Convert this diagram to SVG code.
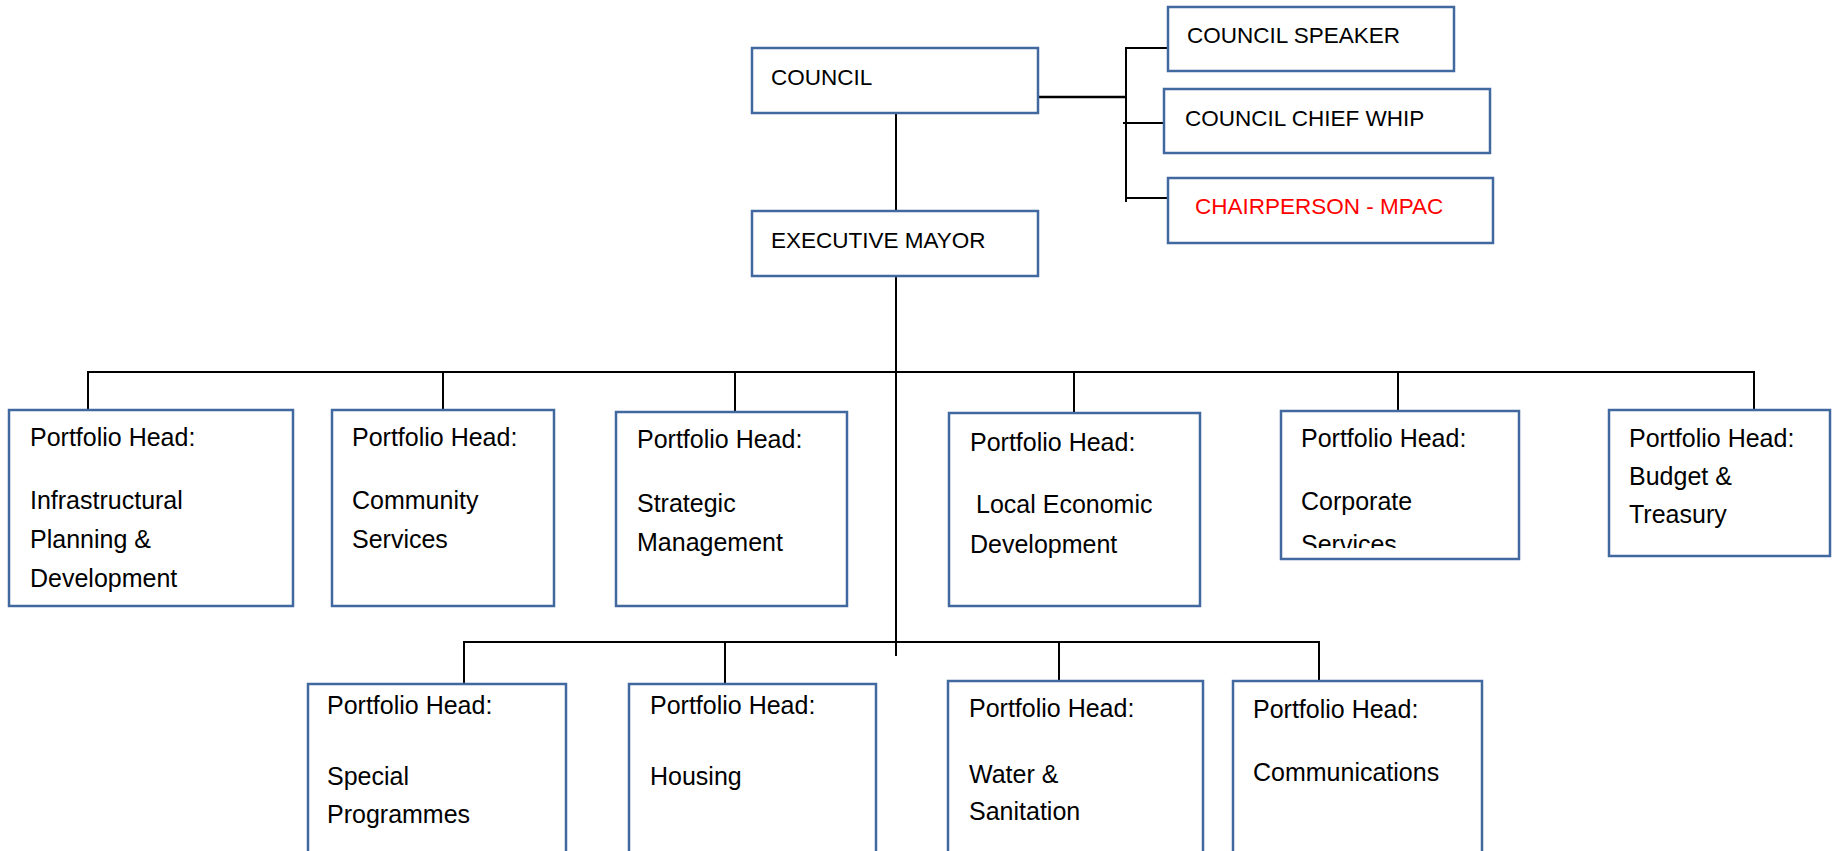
<svg xmlns="http://www.w3.org/2000/svg" width="1832" height="851" viewBox="0 0 1832 851">
<style>
.box{fill:#ffffff;stroke:#41699F;stroke-width:2.5}
.cap{font-family:"Liberation Sans",Arial,sans-serif;font-size:22.5px;fill:#000}
.t{font-family:"Liberation Sans",Arial,sans-serif;font-size:25px;fill:#000}
.red{fill:#FF0000}
.con line{stroke:#000;stroke-width:2}
</style>
<defs>
<clipPath id="clip5"><rect x="1281" y="411" width="238" height="137"/></clipPath>
</defs>
<rect width="1832" height="851" fill="#ffffff"/>
<g id="connectors" class="con">
<line x1="896" y1="110" x2="896" y2="212"/>
<line x1="896" y1="272" x2="896" y2="656"/>
<line x1="1038" y1="97" x2="1126" y2="97" style="stroke-width:2.5"/>
<line x1="1126" y1="47" x2="1126" y2="202"/>
<line x1="1126" y1="48" x2="1168" y2="48"/>
<line x1="1123" y1="123" x2="1164" y2="123"/>
<line x1="1126" y1="198" x2="1168" y2="198"/>
<line x1="87" y1="372" x2="1755" y2="372"/>
<line x1="88" y1="372" x2="88" y2="410"/>
<line x1="443" y1="372" x2="443" y2="410"/>
<line x1="735" y1="372" x2="735" y2="412"/>
<line x1="1074" y1="372" x2="1074" y2="413"/>
<line x1="1398" y1="372" x2="1398" y2="411"/>
<line x1="1754" y1="372" x2="1754" y2="410"/>
<line x1="463" y1="642" x2="1320" y2="642"/>
<line x1="464" y1="642" x2="464" y2="684"/>
<line x1="725" y1="642" x2="725" y2="684"/>
<line x1="1059" y1="642" x2="1059" y2="681"/>
<line x1="1319" y1="642" x2="1319" y2="681"/>
</g>
<g id="council"><rect class="box" x="752" y="48" width="286" height="65"/><text class="cap" x="771" y="85">COUNCIL</text></g>
<g id="executive-mayor"><rect class="box" x="752" y="211" width="286" height="65"/><text class="cap" x="771" y="248">EXECUTIVE MAYOR</text></g>
<g id="council-speaker"><rect class="box" x="1168" y="7" width="286" height="64"/><text class="cap" x="1187" y="43">COUNCIL SPEAKER</text></g>
<g id="council-chief-whip"><rect class="box" x="1164" y="89" width="326" height="64"/><text class="cap" x="1185" y="126">COUNCIL CHIEF WHIP</text></g>
<g id="chairperson-mpac"><rect class="box" x="1168" y="178" width="325" height="65"/><text class="cap red" x="1195" y="214">CHAIRPERSON - MPAC</text></g>
<g id="ph-infrastructural"><rect class="box" x="9" y="410" width="284" height="196"/>
<text class="t" x="30" y="446">Portfolio Head:</text><text class="t" x="30" y="509">Infrastructural</text><text class="t" x="30" y="548">Planning &amp;</text><text class="t" x="30" y="587">Development</text></g>
<g id="ph-community"><rect class="box" x="332" y="410" width="222" height="196"/>
<text class="t" x="352" y="446">Portfolio Head:</text><text class="t" x="352" y="509">Community</text><text class="t" x="352" y="548">Services</text></g>
<g id="ph-strategic"><rect class="box" x="616" y="412" width="231" height="194"/>
<text class="t" x="637" y="448">Portfolio Head:</text><text class="t" x="637" y="512">Strategic</text><text class="t" x="637" y="551">Management</text></g>
<g id="ph-led"><rect class="box" x="949" y="413" width="251" height="193"/>
<text class="t" x="970" y="451">Portfolio Head:</text><text class="t" x="976" y="513">Local Economic</text><text class="t" x="970" y="553">Development</text></g>
<g id="ph-corporate"><rect class="box" x="1281" y="411" width="238" height="148"/>
<text class="t" x="1301" y="447">Portfolio Head:</text><text class="t" x="1301" y="510">Corporate</text><text class="t" x="1301" y="553" clip-path="url(#clip5)">Services</text></g>
<g id="ph-budget"><rect class="box" x="1609" y="410" width="221" height="146"/>
<text class="t" x="1629" y="447">Portfolio Head:</text><text class="t" x="1629" y="485">Budget &amp;</text><text class="t" x="1629" y="523">Treasury</text></g>
<g id="ph-special"><rect class="box" x="308" y="684" width="258" height="190"/>
<text class="t" x="327" y="714">Portfolio Head:</text><text class="t" x="327" y="785">Special</text><text class="t" x="327" y="823">Programmes</text></g>
<g id="ph-housing"><rect class="box" x="629" y="684" width="247" height="190"/>
<text class="t" x="650" y="714">Portfolio Head:</text><text class="t" x="650" y="785">Housing</text></g>
<g id="ph-water"><rect class="box" x="948" y="681" width="255" height="190"/>
<text class="t" x="969" y="717">Portfolio Head:</text><text class="t" x="969" y="783">Water &amp;</text><text class="t" x="969" y="820">Sanitation</text></g>
<g id="ph-communications"><rect class="box" x="1233" y="681" width="249" height="190"/>
<text class="t" x="1253" y="718">Portfolio Head:</text><text class="t" x="1253" y="781">Communications</text></g>
</svg>
